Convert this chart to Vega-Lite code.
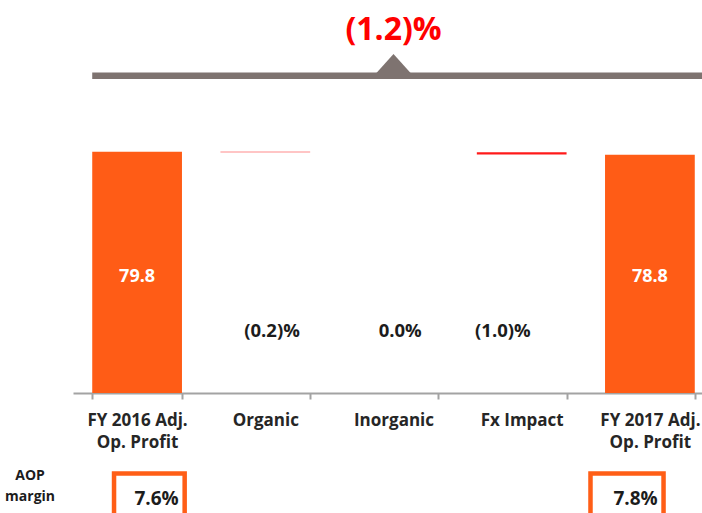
{
  "$schema": "https://vega.github.io/schema/vega-lite/v6.json",
  "width": 629,
  "height": 378,
  "autosize": {"type": "none"},
  "padding": {"left": 73, "top": 15, "right": 0, "bottom": 120},
  "background": "white",
  "config": {"view": {"stroke": null}, "font": "Open Sans"},
  "datasets": {
    "steps": [
      {"category": "FY 2016 Adj. Op. Profit", "start": 0, "end": 79.8, "kind": "total", "label": "79.8", "pct": ""},
      {"category": "Organic", "start": 79.8, "end": 79.64, "kind": "decrease", "label": "", "pct": "(0.2)%"},
      {"category": "Inorganic", "start": 79.64, "end": 79.64, "kind": "decrease", "label": "", "pct": "0.0%"},
      {"category": "Fx Impact", "start": 79.64, "end": 78.84, "kind": "decrease", "label": "", "pct": "(1.0)%"},
      {"category": "FY 2017 Adj. Op. Profit", "start": 0, "end": 78.8, "kind": "total", "label": "78.8", "pct": ""}
    ],
    "margins": [
      {"category": "FY 2016 Adj. Op. Profit", "margin": "7.6%", "rowlabel": "AOP margin"},
      {"category": "FY 2017 Adj. Op. Profit", "margin": "7.8%", "rowlabel": "AOP margin"}
    ],
    "summary": [
      {"from": "FY 2016 Adj. Op. Profit", "to": "FY 2017 Adj. Op. Profit", "mid": "Inorganic", "change": "(1.2)%"}
    ]
  },
  "encoding": {
    "x": {
      "field": "category",
      "type": "nominal",
      "scale": {
        "domain": ["FY 2016 Adj. Op. Profit", "Organic", "Inorganic", "Fx Impact", "FY 2017 Adj. Op. Profit"],
        "range": [0, 641],
        "paddingInner": 0.3,
        "paddingOuter": 0.15
      },
      "axis": {
        "title": null,
        "labelAngle": 0,
        "labelFont": "Open Sans",
        "labelFontSize": 17,
        "labelFontWeight": "bold",
        "labelColor": "#262626",
        "labelExpr": "split(replace(datum.label, ' Op. Profit', '|Op. Profit'), '|')",
        "labelLineHeight": 22,
        "labelPadding": 13,
        "labelLimit": 300,
        "tickBand": "extent",
        "tickSize": 6,
        "tickColor": "#a3a3a3",
        "tickWidth": 2,
        "domainColor": "#a3a3a3",
        "domainWidth": 2
      }
    }
  },
  "layer": [
    {
      "data": {"name": "steps"},
      "mark": {"type": "bar"},
      "encoding": {
        "y": {"field": "start", "type": "quantitative", "scale": {"domain": [0, 125], "nice": false, "zero": true}, "axis": null},
        "y2": {"field": "end"},
        "color": {"field": "kind", "type": "nominal", "scale": {"domain": ["total", "decrease"], "range": ["#ff5c16", "#ff1a1a"]}, "legend": null}
      }
    },
    {
      "data": {"name": "steps"},
      "transform": [{"filter": "datum.kind == 'total'"}],
      "mark": {"type": "text", "color": "white", "fontSize": 18, "fontWeight": "bold", "baseline": "middle"},
      "encoding": {
        "y": {"datum": 38.5, "type": "quantitative"},
        "text": {"field": "label"}
      }
    },
    {
      "data": {"name": "steps"},
      "transform": [{"filter": "datum.category == 'Organic' || datum.category == 'Inorganic'"}],
      "mark": {"type": "text", "color": "#1c1c1c", "fontSize": 18.5, "fontWeight": "bold", "baseline": "middle"},
      "encoding": {
        "x": {"field": "category", "type": "nominal", "bandPosition": 0.575},
        "y": {"datum": 20.5, "type": "quantitative"},
        "text": {"field": "pct"}
      }
    },
    {
      "data": {"name": "steps"},
      "transform": [{"filter": "datum.category == 'Fx Impact'"}],
      "mark": {"type": "text", "color": "#1c1c1c", "fontSize": 18.5, "fontWeight": "bold", "baseline": "middle"},
      "encoding": {
        "x": {"field": "category", "type": "nominal", "bandPosition": 0.29},
        "y": {"datum": 20.5, "type": "quantitative"},
        "text": {"field": "pct"}
      }
    },
    {
      "data": {"name": "summary"},
      "mark": {"type": "rule", "color": "#7e7370", "strokeWidth": 6.5},
      "encoding": {
        "x": {"field": "from", "type": "nominal", "bandPosition": 0},
        "x2": {"field": "to", "bandPosition": 1.2},
        "y": {"datum": 104.9, "type": "quantitative"}
      }
    },
    {
      "data": {"name": "summary"},
      "mark": {"type": "point", "shape": "M-1,0.556L0,-0.556L1,0.556Z", "size": 1296, "filled": true, "color": "#7e7370", "opacity": 1, "strokeWidth": 0},
      "encoding": {
        "x": {"field": "mid", "type": "nominal"},
        "y": {"datum": 108.8, "type": "quantitative"}
      }
    },
    {
      "data": {"name": "summary"},
      "mark": {"type": "text", "color": "#ff0000", "fontSize": 32, "fontWeight": "bold", "baseline": "middle"},
      "encoding": {
        "x": {"field": "mid", "type": "nominal"},
        "y": {"datum": 120.2, "type": "quantitative"},
        "text": {"field": "change"}
      }
    },
    {
      "data": {"name": "margins"},
      "transform": [{"filter": "datum.category == 'FY 2016 Adj. Op. Profit'"}],
      "mark": {"type": "text", "color": "#1c1c1c", "fontSize": 14, "fontWeight": "bold", "baseline": "middle", "lineBreak": " ", "lineHeight": 20.5},
      "encoding": {
        "x": {"field": "category", "type": "nominal", "bandPosition": -0.693},
        "y": {"datum": -27.6, "type": "quantitative"},
        "text": {"field": "rowlabel"}
      }
    },
    {
      "data": {"name": "margins"},
      "transform": [{"filter": "datum.category == 'FY 2016 Adj. Op. Profit'"}],
      "mark": {"type": "rect", "fill": "white", "stroke": "#ff5e16", "strokeWidth": 4.5},
      "encoding": {
        "x": {"field": "category", "type": "nominal", "bandPosition": 0.243},
        "x2": {"field": "category", "bandPosition": 1.03},
        "y": {"datum": -26.6, "type": "quantitative"},
        "y2": {"datum": -45}
      }
    },
    {
      "data": {"name": "margins"},
      "transform": [{"filter": "datum.category == 'FY 2016 Adj. Op. Profit'"}],
      "mark": {"type": "text", "color": "#1c1c1c", "fontSize": 19, "fontWeight": "bold", "baseline": "alphabetic"},
      "encoding": {
        "x": {"field": "category", "type": "nominal", "bandPosition": 0.717},
        "y": {"datum": -37, "type": "quantitative"},
        "text": {"field": "margin"}
      }
    },
    {
      "data": {"name": "margins"},
      "transform": [{"filter": "datum.category == 'FY 2017 Adj. Op. Profit'"}],
      "mark": {"type": "rect", "fill": "white", "stroke": "#ff5e16", "strokeWidth": 4.5},
      "encoding": {
        "x": {"field": "category", "type": "nominal", "bandPosition": -0.162},
        "x2": {"field": "category", "bandPosition": 0.652},
        "y": {"datum": -26.6, "type": "quantitative"},
        "y2": {"datum": -45}
      }
    },
    {
      "data": {"name": "margins"},
      "transform": [{"filter": "datum.category == 'FY 2017 Adj. Op. Profit'"}],
      "mark": {"type": "text", "color": "#1c1c1c", "fontSize": 19, "fontWeight": "bold", "baseline": "alphabetic"},
      "encoding": {
        "x": {"field": "category", "type": "nominal", "bandPosition": 0.34},
        "y": {"datum": -37, "type": "quantitative"},
        "text": {"field": "margin"}
      }
    }
  ]
}
